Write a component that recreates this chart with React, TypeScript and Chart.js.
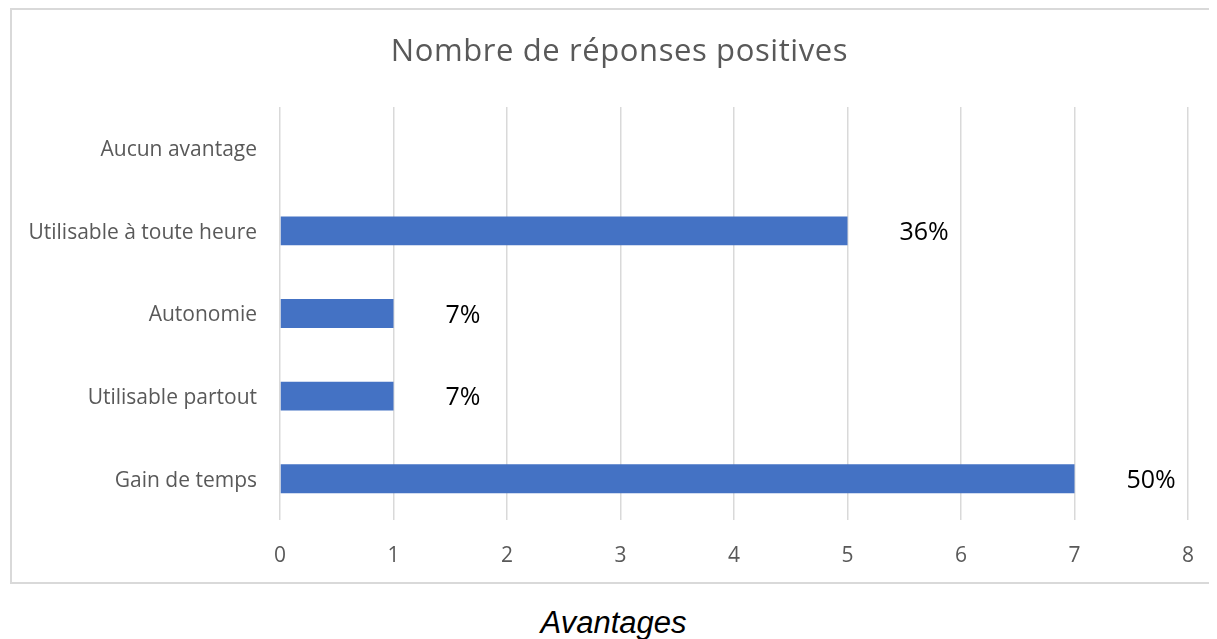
import React, { useEffect, useRef } from "react";
import { Chart, registerables } from "chart.js";

Chart.register(...registerables);

const categories = [
  "Gain de temps",
  "Utilisable partout",
  "Autonomie",
  "Utilisable à toute heure",
  "Aucun avantage",
];
const counts = [7, 1, 1, 5, 0];
const xTicks = [0, 1, 2, 3, 4, 5, 6, 7, 8];
const chartTitle = "Nombre de réponses positives";
const footerTitle = "Avantages";

const total = counts.reduce((a, b) => a + b, 0);
const percentLabels = counts.map((v) => (v > 0 ? `${Math.round((v / total) * 100)}%` : ""));

const FONT = "'Open Sans', 'Noto Sans', sans-serif";

const pctPlugin = {
  id: "pctLabels",
  afterDatasetsDraw(chart: any) {
    const { ctx } = chart;
    const meta = chart.getDatasetMeta(0);
    const xScale = chart.scales.x;
    ctx.save();
    ctx.font = `25px ${FONT}`;
    ctx.fillStyle = "#000000";
    ctx.textAlign = "left";
    ctx.textBaseline = "middle";
    meta.data.forEach((bar: any, i: number) => {
      const label = percentLabels[i];
      if (!label) return;
      const x = xScale.getPixelForValue(counts[i]) + 52;
      ctx.fillText(label, x, bar.y + 2);
    });
    ctx.restore();
  },
};

const titlePlugin = {
  id: "boxTitle",
  afterDraw(chart: any) {
    const { ctx } = chart;
    ctx.save();
    ctx.font = `31px ${FONT}`;
    try {
      (ctx as any).letterSpacing = "0.6px";
    } catch (e) {
      /* ignore */
    }
    ctx.fillStyle = "#595959";
    ctx.textAlign = "center";
    ctx.textBaseline = "alphabetic";
    ctx.fillText(chartTitle, 607.5, 51);
    ctx.restore();
  },
};

export default function App() {
  const ref = useRef<HTMLCanvasElement | null>(null);

  useEffect(() => {
    document.body.style.overflow = "hidden";
    const canvas = ref.current;
    if (!canvas) return;
    const chart = new Chart(canvas, {
      type: "bar",
      data: {
        labels: categories,
        datasets: [
          {
            data: counts,
            backgroundColor: "#4472C4",
            borderWidth: 0,
            barPercentage: 0.35,
            categoryPercentage: 1,
          },
        ],
      },
      options: {
        indexAxis: "y",
        animation: false,
        responsive: false,
        maintainAspectRatio: false,
        layout: { padding: { top: 97, left: 0, right: 17, bottom: 0 } },
        plugins: {
          legend: { display: false },
          tooltip: { enabled: false },
          title: { display: false },
        },
        scales: {
          x: {
            type: "linear",
            min: 0,
            max: 8,
            afterBuildTicks(axis: any) {
              axis.ticks = xTicks.map((v) => ({ value: v }));
            },
            afterFit(axis: any) {
              axis.height = 62;
            },
            grid: { color: "#d9d9d9", lineWidth: 1.5, drawTicks: false },
            border: { display: false },
            ticks: {
              color: "#595959",
              font: { family: FONT, size: 21 },
              padding: 23,
            },
          },
          y: {
            reverse: true,
            afterFit(axis: any) {
              axis.width = 268;
            },
            grid: { display: false, drawTicks: false },
            border: { display: false },
            ticks: {
              color: "#595959",
              font: { family: FONT, size: 21 },
              padding: 23,
              labelOffset: 2,
            },
          },
        },
      },
      plugins: [pctPlugin, titlePlugin],
    });
    return () => chart.destroy();
  }, []);

  return (
    <div style={{ position: "relative", width: 1201, height: 631 }}>
      <div
        style={{
          position: "absolute",
          left: 2,
          top: 0,
          width: 1207,
          height: 576,
          borderTop: "2px solid #d9d9d9",
          borderLeft: "2px solid #d9d9d9",
          borderBottom: "2px solid #d9d9d9",
          boxSizing: "border-box",
          background: "#ffffff",
        }}
      >
        <canvas ref={ref} width={1205} height={572} style={{ display: "block" }} />
      </div>
      <div
        style={{
          position: "absolute",
          left: 2,
          width: 1207,
          top: 599,
          textAlign: "center",
          fontFamily: "'Liberation Sans', Arial, sans-serif",
          fontStyle: "italic",
          fontSize: 31,
          lineHeight: "31px",
          color: "#000000",
          whiteSpace: "nowrap",
        }}
      >
        {footerTitle}
      </div>
    </div>
  );
}
